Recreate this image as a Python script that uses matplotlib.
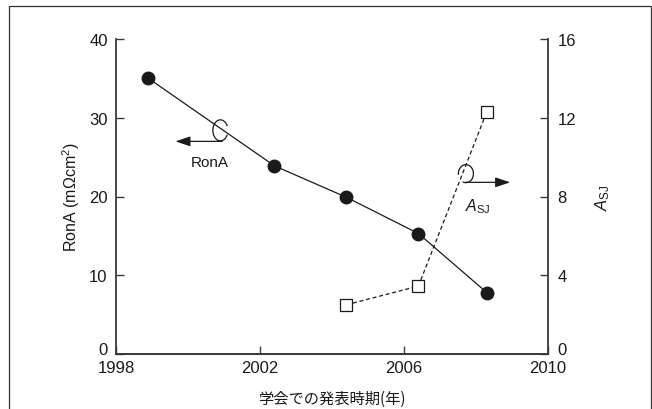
import matplotlib

matplotlib.use("Agg")
import matplotlib.pyplot as plt
import matplotlib.transforms as mtransforms
from matplotlib.patches import Arc, Rectangle

plt.rcParams["font.family"] = ["Liberation Sans", "Noto Sans CJK JP"]
plt.rcParams["mathtext.fontset"] = "custom"
plt.rcParams["mathtext.rm"] = "Liberation Sans"
plt.rcParams["mathtext.it"] = "Liberation Sans:italic"

# conference year vs. on-resistance and SJ aspect ratio
ron_year = [1998.9, 2002.4, 2004.4, 2006.4, 2008.3]
ron_a = [35.0, 23.9, 19.9, 15.3, 7.8]
asj_year = [2004.4, 2006.4, 2008.3]
asj = [2.5, 3.45, 12.3]

x_ticks = [1998, 2002, 2006, 2010]
ron_ticks = [0, 10, 20, 30, 40]
asj_ticks = [0, 4, 8, 12, 16]

INK = "#1a1a1a"
SPINE = "#3a3a3a"

fig = plt.figure(figsize=(6.52, 4.10), dpi=100)
ax = fig.add_axes([116 / 652, 1 - 355 / 410, 432 / 652, 315 / 410])
ax2 = ax.twinx()

ax.plot(ron_year, ron_a, "-", color=INK, lw=0.9, marker="o", ms=9,
        mfc=INK, mec=INK, zorder=3)
ax2.plot(asj_year, asj, color=INK, lw=0.9, ls=(0, (3.2, 2.2)), marker="s",
         ms=8.5, mfc="white", mec=INK, mew=0.9, zorder=3)

ax.set_xlim(1998, 2010)
ax.set_ylim(0, 40)
ax2.set_ylim(0, 16)
ax.set_xticks(x_ticks)
ax.set_yticks(ron_ticks)
ax2.set_yticks(asj_ticks)

for a in (ax, ax2):
    a.spines["top"].set_visible(False)
    for s in ("left", "right", "bottom"):
        a.spines[s].set_color(SPINE)
        a.spines[s].set_linewidth(1.3)
    a.tick_params(direction="in", length=6, width=1.0, color=SPINE,
                  labelsize=12, labelcolor=INK)
ax.spines["right"].set_visible(False)
ax2.spines["left"].set_visible(False)
ax.tick_params(axis="y", pad=6)
ax.tick_params(axis="x", pad=4)
ax2.tick_params(axis="y", pad=7)

# lift the two "0" labels a little so they sit clear of the year labels
fig.canvas.draw()
lift = mtransforms.ScaledTranslation(0, 4 / 72, fig.dpi_scale_trans)
for a in (ax, ax2):
    for lab in a.get_yticklabels():
        if lab.get_text() == "0":
            lab.set_transform(lab.get_transform() + lift)

ax.set_ylabel("RonA (mΩcm$^2$)", fontsize=11.5, color=INK, labelpad=5)
ax2.set_ylabel("$A_{\\rm SJ}$", fontsize=12, color=INK, labelpad=12)
ax.set_xlabel("学会での発表時期(年)", fontsize=11, color=INK, labelpad=11,
              family=["Noto Sans CJK JP"])

# RonA marker: bracket on the curve with an arrow pointing at the left axis
px_x, px_y = 432 / 12, 315 / 40
ax.add_patch(Arc((2000.9, 28.4), 15 / px_x, 21 / px_y, theta1=70, theta2=290,
                 color=INK, lw=0.9, zorder=4))
ax.annotate("", xy=(1999.65, 27.0), xytext=(2000.95, 27.0),
            arrowprops=dict(arrowstyle="-|>,head_length=0.9,head_width=0.3",
                            color=INK, lw=0.9, shrinkA=0, shrinkB=0))
ax.text(2000.6, 24.4, "RonA", fontsize=11, color=INK, ha="center", va="center")

# A_SJ marker: loop on the dashed curve with an arrow towards the right axis
ax.add_patch(Arc((2007.72, 22.9), 15 / px_x, 18 / px_y, theta1=-95, theta2=215,
                 color=INK, lw=0.9, zorder=4))
ax.annotate("", xy=(2008.95, 21.8), xytext=(2007.7, 21.8),
            arrowprops=dict(arrowstyle="-|>,head_length=0.9,head_width=0.3",
                            color=INK, lw=0.9, shrinkA=0, shrinkB=0))
ax.text(2008.05, 18.9, "$A_{\\rm SJ}$", fontsize=11.5, color=INK,
        ha="center", va="center")

# outer frame
fig.add_artist(Rectangle((9 / 652, -0.05), 642 / 652, 1.05 - 7 / 410,
                         transform=fig.transFigure, fill=False,
                         ec="#333333", lw=0.9, clip_on=False))

fig.savefig("out.png", dpi=100)
